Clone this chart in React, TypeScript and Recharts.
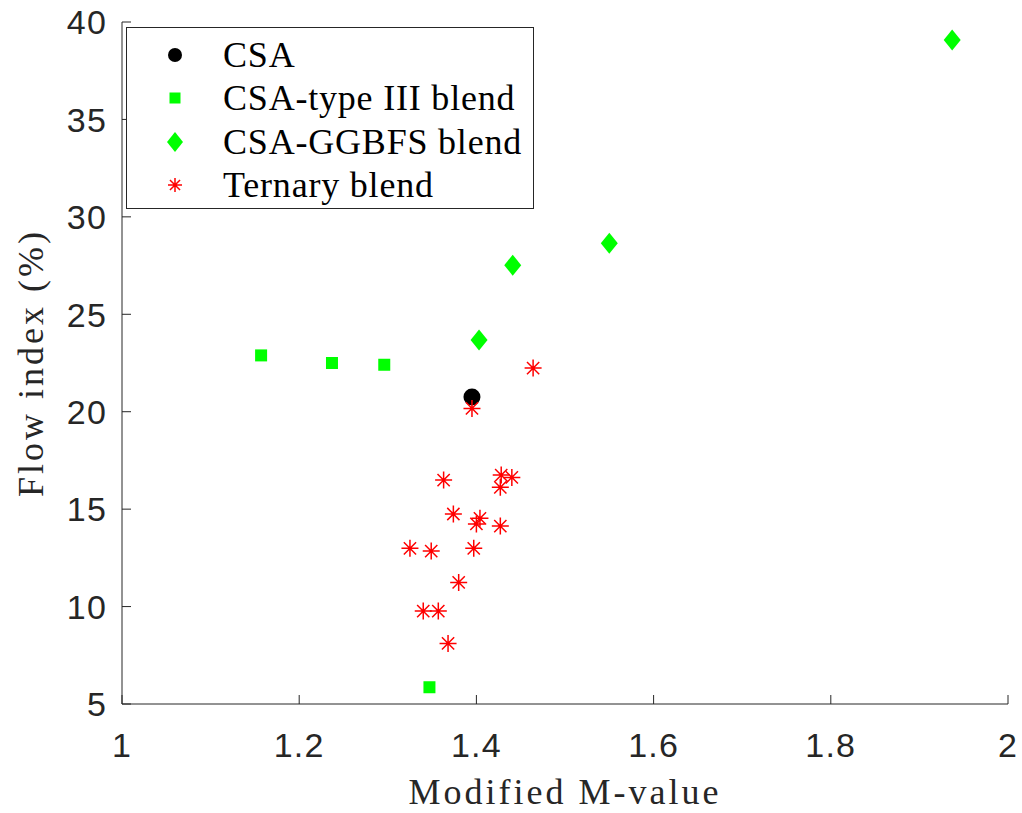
import { Legend, Scatter, ScatterChart, XAxis, YAxis } from "recharts";

// values
const csaX = [1.395];
const csaY = [20.75];

const typeIIIX = [1.157, 1.237, 1.296, 1.347];
const typeIIIY = [22.89, 22.5, 22.41, 5.86];

const ggbfsX = [1.403, 1.441, 1.55, 1.937];
const ggbfsY = [23.68, 27.52, 28.65, 39.07];

const ternaryX = [1.395, 1.363, 1.428, 1.44, 1.427, 1.374, 1.404, 1.4, 1.427, 1.325, 1.349, 1.397, 1.38, 1.34, 1.357, 1.368, 1.464];
const ternaryY = [20.17, 16.49, 16.75, 16.63, 16.12, 14.75, 14.53, 14.24, 14.13, 12.99, 12.85, 12.99, 11.24, 9.77, 9.77, 8.11, 22.24];

const seriesNames = ["CSA", "CSA-type III blend", "CSA-GGBFS blend", "Ternary blend"];
const xTicks = [1, 1.2, 1.4, 1.6, 1.8, 2];
const yTicks = [5, 10, 15, 20, 25, 30, 35, 40];

const AXIS = "#262626";
const GREEN = "#00ff00";
const RED = "#ff0000";
const SANS = "'Liberation Sans', Arial, sans-serif";
const SERIF = "'Liberation Serif', 'Times New Roman', serif";

const puntos = (xs: number[], ys: number[]) => xs.map((x, i) => ({ x, y: ys[i] }));

type Mk = { cx?: number; cy?: number };

function circulo(cx: number, cy: number, r: number) {
  return <circle cx={cx} cy={cy} r={r} fill="#000" />;
}
function cuadro(cx: number, cy: number, s: number) {
  return <rect x={cx - s / 2} y={cy - s / 2} width={s} height={s} fill={GREEN} />;
}
function rombo(cx: number, cy: number, w: number, h: number) {
  return <polygon points={`${cx},${cy - h / 2} ${cx + w / 2},${cy} ${cx},${cy + h / 2} ${cx - w / 2},${cy}`} fill={GREEN} />;
}
function estrella(cx: number, cy: number, r: number) {
  const d = r * 0.72;
  return (
    <path
      d={`M${cx - r},${cy}H${cx + r}M${cx},${cy - r}V${cy + r}M${cx - d},${cy - d}L${cx + d},${cy + d}M${cx - d},${cy + d}L${cx + d},${cy - d}`}
      stroke={RED}
      strokeWidth={1.5}
      fill="none"
    />
  );
}

const marcadores = [
  (cx: number, cy: number) => circulo(cx, cy, 7),
  (cx: number, cy: number) => cuadro(cx, cy, 11),
  (cx: number, cy: number) => rombo(cx, cy, 16, 20),
  (cx: number, cy: number) => estrella(cx, cy, 7),
];

function CajaLeyenda() {
  const filas = [28, 71, 115, 158];
  return (
    <div
      style={{
        position: "relative",
        width: 408,
        height: 182,
        border: `1px solid ${AXIS}`,
        background: "#fff",
        boxSizing: "border-box",
        fontFamily: SERIF,
        fontSize: 36,
        color: "#000",
      }}
    >
      {seriesNames.map((nombre, i) => (
        <div key={nombre}>
          <svg width={30} height={30} style={{ position: "absolute", left: 33, top: filas[i] - 16 }}>
            {marcadores[i](15, 15)}
          </svg>
          <span style={{ position: "absolute", left: 96, top: filas[i] - 19, lineHeight: "36px", whiteSpace: "nowrap", letterSpacing: 0.8 }}>
            {nombre}
          </span>
        </div>
      ))}
    </div>
  );
}

const tickText = { fontFamily: SANS, fontSize: 34, fill: AXIS, letterSpacing: 1.2 };

function TickAbajo({ x, y, payload }: any) {
  return (
    <g>
      <line x1={x} y1={y} x2={x} y2={y - 9} stroke={AXIS} />
      <text x={x} y={y + 53} textAnchor="middle" {...tickText}>
        {payload.value}
      </text>
    </g>
  );
}
function TickArriba({ x, y }: any) {
  return <line x1={x} y1={y} x2={x} y2={y + 9} stroke={AXIS} />;
}
function TickIzq({ x, y, payload }: any) {
  return (
    <g>
      <line x1={x} y1={y} x2={x + 9} y2={y} stroke={AXIS} />
      <text x={x - 15} y={y} dy="0.36em" textAnchor="end" {...tickText}>
        {payload.value}
      </text>
    </g>
  );
}
function TickDer({ x, y }: any) {
  return <line x1={x} y1={y} x2={x - 9} y2={y} stroke={AXIS} />;
}

const labelStyle = { fontFamily: SERIF, fontSize: 36, fill: AXIS, letterSpacing: 3 };

export default function App() {
  return (
    <div style={{ position: "absolute", left: 0, top: 0, background: "#fff" }}>
      <ScatterChart width={1022} height={813} margin={{ top: 22, right: 14, bottom: 0, left: 0 }}>
        <XAxis
          type="number"
          dataKey="x"
          domain={[1, 2]}
          ticks={xTicks}
          height={109}
          tickSize={0}
          tickMargin={0}
          tick={<TickAbajo />}
          axisLine={{ stroke: AXIS }}
          allowDataOverflow
          label={{ value: "Modified M-value", position: "insideBottom", offset: 9, style: labelStyle }}
        />
        <XAxis
          xAxisId="arriba"
          orientation="top"
          type="number"
          domain={[1, 2]}
          ticks={xTicks}
          height={0}
          tickSize={0}
          tickMargin={0}
          tick={<TickArriba />}
          axisLine={{ stroke: AXIS }}
          allowDataOverflow
        />
        <YAxis
          type="number"
          dataKey="y"
          domain={[5, 40]}
          ticks={yTicks}
          width={122}
          tickSize={0}
          tickMargin={0}
          tick={<TickIzq />}
          axisLine={{ stroke: AXIS }}
          allowDataOverflow
          label={{ value: "Flow index (%)", angle: -90, position: "insideLeft", offset: 30, textAnchor: "middle", style: { ...labelStyle, textAnchor: "middle" } }}
        />
        <YAxis
          yAxisId="derecha"
          orientation="right"
          type="number"
          domain={[5, 40]}
          ticks={yTicks}
          width={0}
          tickSize={0}
          tickMargin={0}
          tick={<TickDer />}
          axisLine={{ stroke: AXIS }}
          allowDataOverflow
        />
        <Scatter name={seriesNames[0]} data={puntos(csaX, csaY)} isAnimationActive={false} shape={(p: Mk) => circulo(p.cx ?? 0, p.cy ?? 0, 8.5)} />
        <Scatter name={seriesNames[1]} data={puntos(typeIIIX, typeIIIY)} isAnimationActive={false} shape={(p: Mk) => cuadro(p.cx ?? 0, p.cy ?? 0, 12)} />
        <Scatter name={seriesNames[2]} data={puntos(ggbfsX, ggbfsY)} isAnimationActive={false} shape={(p: Mk) => rombo(p.cx ?? 0, p.cy ?? 0, 17, 21)} />
        <Scatter name={seriesNames[3]} data={puntos(ternaryX, ternaryY)} isAnimationActive={false} shape={(p: Mk) => estrella(p.cx ?? 0, p.cy ?? 0, 8.5)} />
        <Legend
          layout="vertical"
          align="center"
          verticalAlign="middle"
          content={() => <CajaLeyenda />}
          wrapperStyle={{ position: "absolute", left: 126, top: 27, width: 408, height: 182 }}
        />
      </ScatterChart>
    </div>
  );
}
